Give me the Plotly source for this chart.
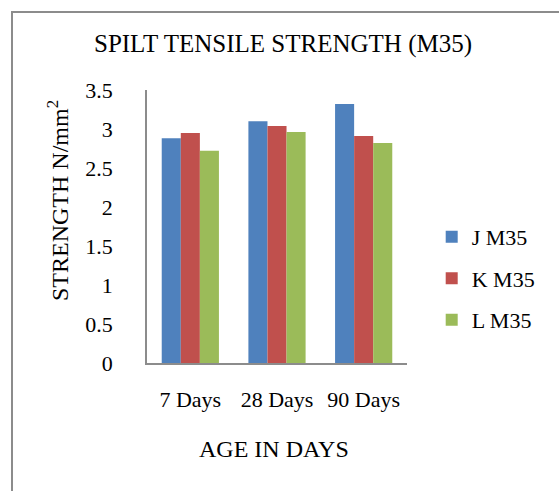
import plotly.graph_objects as go

# Split tensile strength of M35 mixes at different curing ages
ages = ["7 Days", "28 Days", "90 Days"]
j_m35 = [2.88, 3.10, 3.32]
k_m35 = [2.95, 3.04, 2.91]
l_m35 = [2.72, 2.96, 2.82]
series_names = ["J M35", "K M35", "L M35"]
series_colors = ["#4F81BD", "#C0504D", "#9BBB59"]
y_ticks = [0, 0.5, 1, 1.5, 2, 2.5, 3, 3.5]
y_tick_text = ["0", "0.5", "1", "1.5", "2", "2.5", "3", "3.5"]

FONT = "Liberation Serif"

fig = go.Figure()
for name, vals, col in zip(series_names, [j_m35, k_m35, l_m35], series_colors):
    fig.add_trace(go.Bar(
        x=ages, y=vals, name=name, marker_color=col,
        marker_line_width=0, legendgroup=name,
    ))

fig.update_layout(
    width=559, height=491,
    margin=dict(l=147, r=152, t=90, b=128),
    paper_bgcolor="white", plot_bgcolor="white",
    font=dict(family=FONT, size=22, color="black"),
    barmode="group", bargap=0.34, bargroupgap=0,
    title=dict(text="SPILT TENSILE STRENGTH (M35)", xref="container",
               x=283 / 559, xanchor="center", yref="container",
               y=1 - 43 / 491, yanchor="middle",
               font=dict(family=FONT, size=25, color="black")),
    legend=dict(x=1.095, xanchor="left", y=0.31, yanchor="middle",
                font=dict(family=FONT, size=22), tracegroupgap=10,
                itemwidth=30, bgcolor="rgba(0,0,0,0)"),
    showlegend=True,
)

fig.update_xaxes(
    showline=True, linecolor="#8c8c8c", linewidth=1.5,
    showgrid=False, ticks="", ticklabelstandoff=16,
    tickfont=dict(family=FONT, size=22),
)
fig.update_yaxes(
    range=[0, 3.5], tickvals=y_ticks, ticktext=y_tick_text,
    showline=True, linecolor="#8c8c8c", linewidth=1.5,
    showgrid=False, zeroline=False, ticks="", ticklabelstandoff=28,
    tickfont=dict(family=FONT, size=22),
)

# Axis titles
fig.add_annotation(text="STRENGTH N/mm<sup>2</sup>", textangle=-90,
                   xref="paper", yref="paper",
                   x=(58 - 147) / 260, y=(363 - 201) / 273,
                   xanchor="center", yanchor="middle", showarrow=False,
                   font=dict(family=FONT, size=24, color="black"))
fig.add_annotation(text="AGE IN DAYS", xref="paper", yref="paper",
                   x=(274 - 147) / 260, y=(363 - 449) / 273,
                   xanchor="center", yanchor="middle", showarrow=False,
                   font=dict(family=FONT, size=24, color="black"))

# Chart area frame
fig.add_shape(type="rect", xref="paper", yref="paper",
              x0=(12 - 147) / 260, x1=(580 - 147) / 260,
              y0=(363 - 520) / 273, y1=(363 - 12) / 273,
              line=dict(color="#8c8c8c", width=2), fillcolor="rgba(0,0,0,0)",
              layer="below")

fig.write_html("out.html")
